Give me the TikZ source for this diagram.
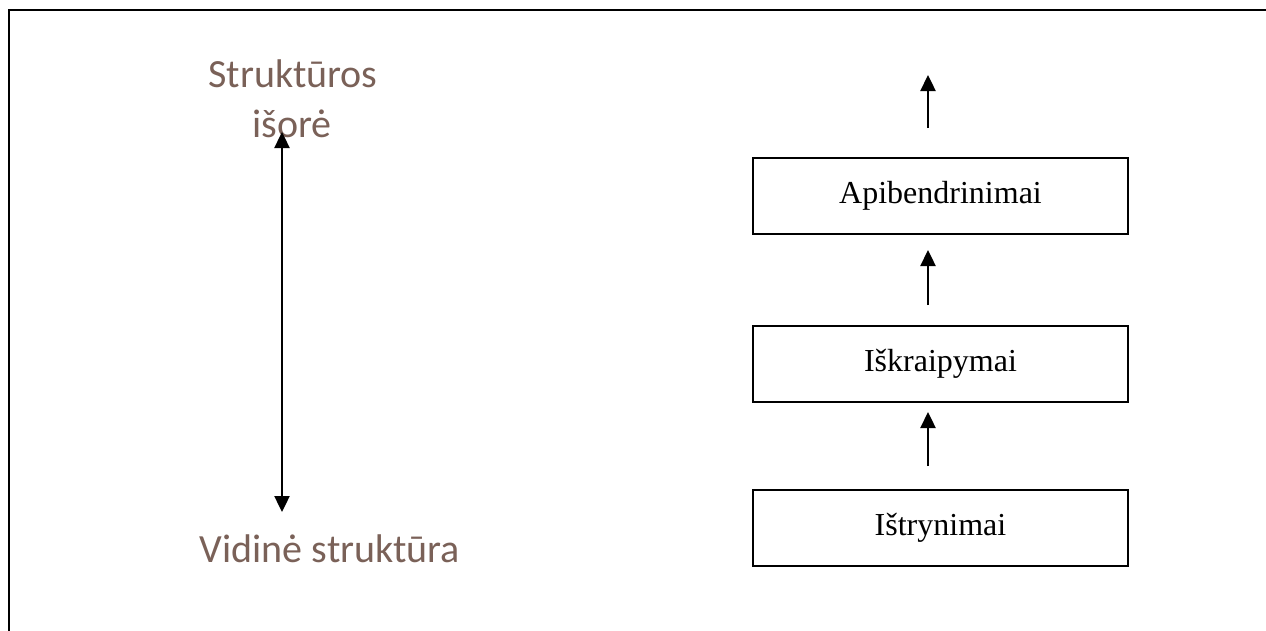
\documentclass[tikz,border=0pt]{standalone}
\usepackage{fontspec}
\setmainfont{Liberation Serif}
\newfontfamily\labelfont{Carlito}
\usetikzlibrary{arrows.meta}
\definecolor{labelbrown}{HTML}{7A6158}
\begin{document}
\begin{tikzpicture}[x=1pt,y=-1pt,
  stagebox/.style={draw,line width=1.8pt,minimum width=375pt,minimum height=76pt,
    inner sep=0pt,font=\fontsize{32}{38}\selectfont},
  levellabel/.style={text=labelbrown,font=\labelfont\fontsize{40}{49}\selectfont,anchor=base,inner sep=0pt},
  flow/.style={line width=2.4pt,-{Triangle[width=15pt,length=16pt]}},
  both/.style={line width=2.4pt,{Triangle[width=15pt,length=16pt]}-{Triangle[width=15pt,length=16pt]}}]
\useasboundingbox (0,0) rectangle (1266,630);
% frame open at the right and bottom
\draw[line width=2.2pt] (9,640) -- (9,10) -- (1280,10);

% left scale
\node[levellabel] (outer1) at (293,87) {Struktūros};
\node[levellabel] (outer2) at (292,137) {išorė};
\node[levellabel] (inner) at (330,562) {Vidinė struktūra};
\coordinate (scaletop) at (282,132);
\coordinate (scalebot) at (282,512);
\draw[both] (scalebot) -- (scaletop);

% right stack
\node[stagebox] (gen) at (940.5,196) {Apibendrinimai};
\node[stagebox] (dist) at (940.5,364) {Iškraipymai};
\node[stagebox] (del) at (940.5,528) {Ištrynimai};

\coordinate (a1s) at (928,128); \coordinate (a1e) at (928,75);
\coordinate (a2s) at (928,305); \coordinate (a2e) at (928,250);
\coordinate (a3s) at (928,466); \coordinate (a3e) at (928,412);
\draw[flow] (a1s) -- (a1e);
\draw[flow] (a2s) -- (a2e);
\draw[flow] (a3s) -- (a3e);
\end{tikzpicture}
\end{document}
